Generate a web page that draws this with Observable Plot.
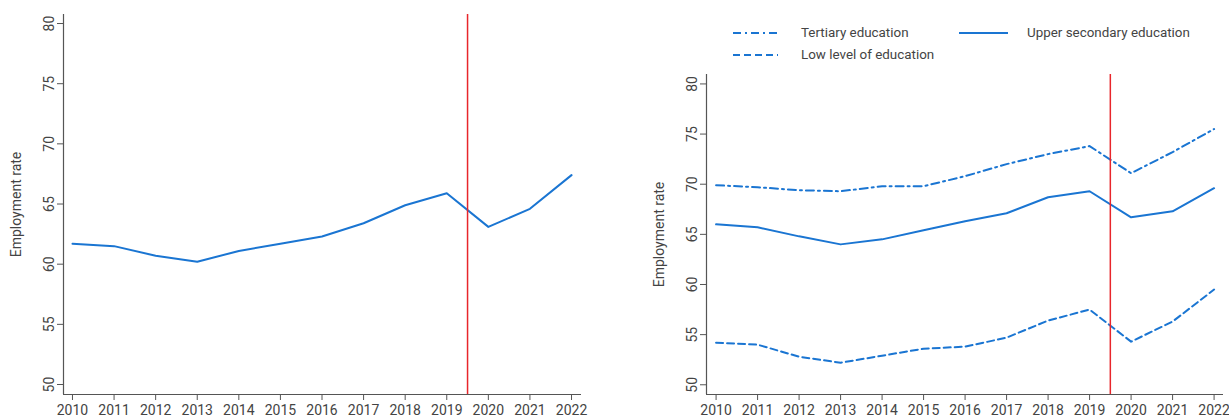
<!DOCTYPE html>
<html>
<head>
<meta charset="utf-8">
<script src="https://cdn.jsdelivr.net/npm/d3@7"></script>
<script src="https://cdn.jsdelivr.net/npm/@observablehq/plot@0.6"></script>
<style>
  html, body { margin: 0; padding: 0; background: #fff; }
  #wrap { position: relative; width: 1229px; height: 420px; font-family: Roboto, sans-serif; color: #444; }
  .panel { position: absolute; top: 0; }
  .leg { position: absolute; font-size: 13.4px; color: #444; display: flex; align-items: center; white-space: nowrap; }
  .leg svg { margin-right: 23px; }
</style>
</head>
<body>
<div id="wrap">
  <div id="left" class="panel" style="left:0px"></div>
  <div id="right" class="panel" style="left:620px"></div>
  <div class="leg" style="left:733px; top:25px"><svg width="45" height="6"><line x1="0" y1="3" x2="45" y2="3" stroke="#1a75d2" stroke-width="2" stroke-dasharray="8,4,2,4"/></svg>Tertiary education</div>
  <div class="leg" style="left:733px; top:47px"><svg width="45" height="6"><line x1="0" y1="3" x2="45" y2="3" stroke="#1a75d2" stroke-width="2" stroke-dasharray="7,4"/></svg>Low level of education</div>
  <div class="leg" style="left:959px; top:25px"><svg width="49" height="6" style="margin-right:19px"><line x1="0" y1="3" x2="49" y2="3" stroke="#1a75d2" stroke-width="2"/></svg>Upper secondary education</div>
</div>
<script>
const years = [2010, 2011, 2012, 2013, 2014, 2015, 2016, 2017, 2018, 2019, 2020, 2021, 2022];
const total = [61.7, 61.5, 60.7, 60.2, 61.1, 61.7, 62.3, 63.4, 64.9, 65.9, 63.1, 64.6, 67.4];
const tertiary = [69.9, 69.7, 69.4, 69.3, 69.8, 69.8, 70.8, 72.0, 73.0, 73.8, 71.1, 73.2, 75.5];
const upperSecondary = [66.0, 65.7, 64.8, 64.0, 64.5, 65.4, 66.3, 67.1, 68.7, 69.3, 66.7, 67.3, 69.6];
const lowLevel = [54.2, 54.0, 52.8, 52.2, 52.9, 53.6, 53.8, 54.7, 56.4, 57.5, 54.3, 56.3, 59.5];
const yTicks = [50, 55, 60, 65, 70, 75, 80];
const breakYear = 2019.5;

const blue = "#1a75d2";
const red = "#e8262b";
const axisColor = "#555";

function panel({width, height, marginLeft, marginRight, marginTop, marginBottom, xDomain, yDomain, series}) {
  const lines = series.map(s => Plot.line(years.map((yr, i) => ({year: yr, v: s.values[i]})), {
    x: "year", y: "v", stroke: blue, strokeWidth: 2, strokeDasharray: s.dash, strokeLinejoin: "round"
  }));
  return Plot.plot({
    width, height, marginLeft, marginRight, marginTop, marginBottom,
    style: {fontFamily: "Roboto, sans-serif", fontSize: "14px", color: "#444", background: "#fff"},
    x: {domain: xDomain, ticks: years, tickFormat: d => String(d)},
    y: {domain: yDomain, ticks: yTicks},
    marks: [
      Plot.ruleX([xDomain[0]], {stroke: axisColor, strokeWidth: 1.2}),
      Plot.ruleY([yDomain[0]], {stroke: axisColor, strokeWidth: 1.2}),
      Plot.axisX({ticks: years, tickSize: 6, tickPadding: 5, stroke: axisColor, fill: "#444", fontSize: 14, label: null, tickFormat: d => String(d)}),
      Plot.axisY({ticks: yTicks, tickSize: 6, tickPadding: 4, tickRotate: -90, stroke: axisColor, fill: "#444", fontSize: 14, label: null}),
      Plot.text(["Employment rate"], {frameAnchor: "left", textAnchor: "middle", lineAnchor: "middle", rotate: -90, dx: -46.5, fontSize: 14, fill: "#444"}),
      ...lines,
      Plot.ruleX([breakYear], {stroke: red, strokeWidth: 1.5})
    ]
  });
}

document.getElementById("left").appendChild(panel({
  width: 600, height: 420, marginLeft: 63, marginRight: 19, marginTop: 14, marginBottom: 26,
  xDomain: [2009.784, 2022.24], yDomain: [49.17, 80.75],
  series: [{values: total, dash: null}]
}));

document.getElementById("right").appendChild(panel({
  width: 609, height: 420, marginLeft: 86, marginRight: 6, marginTop: 74, marginBottom: 26,
  xDomain: [2009.769, 2022.227], yDomain: [49.03, 80.94],
  series: [
    {values: tertiary, dash: "8,4,2,4"},
    {values: upperSecondary, dash: null},
    {values: lowLevel, dash: "7,4"}
  ]
}));
</script>
</body>
</html>
